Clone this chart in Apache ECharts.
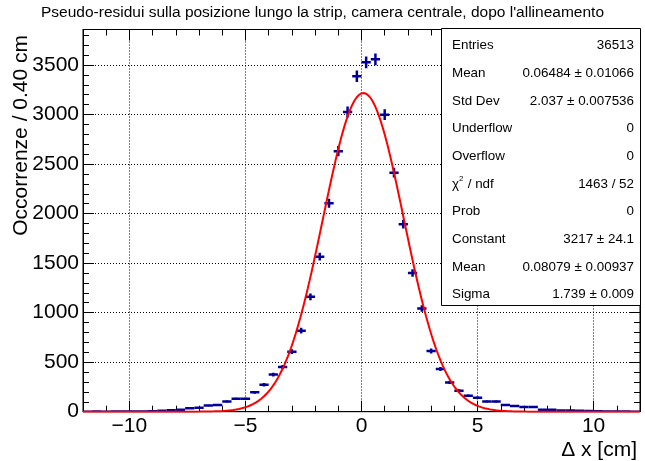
<!DOCTYPE html>
<html>
<head>
<meta charset="utf-8">
<script src="https://cdn.jsdelivr.net/npm/echarts@6/dist/echarts.min.js"></script>
<style>html,body{margin:0;padding:0;background:#fff;}#c{width:645px;height:461px;}</style>
</head>
<body>
<div id="c"></div>
<script>
// ---- data ----
var binCenters = [-11.8,-11.4,-11.0,-10.6,-10.2,-9.8,-9.4,-9.0,-8.6,-8.2,-7.8,-7.4,-7.0,-6.6,-6.2,-5.8,-5.4,-5.0,-4.6,-4.2,-3.8,-3.4,-3.0,-2.6,-2.2,-1.8,-1.4,-1.0,-0.6,-0.2,
                  0.2,0.6,1.0,1.4,1.8,2.2,2.6,3.0,3.4,3.8,4.2,4.6,5.0,5.4,5.8,6.2,6.6,7.0,7.4,7.8,8.2,8.6,9.0,9.4,9.8,10.2,10.6,11.0,11.4,11.8];
var counts = [0,2,0,1,2,2,3,5,10,15,20,34,40,62,68,103,130,130,196,272,375,450,606,818,1160,1565,2104,2630,3025,3386,
              3527,3557,2998,2413,1893,1400,1042,612,431,296,212,161,141,104,104,67,57,47,47,20,20,13,13,10,8,5,3,3,1,0];
var binWidth = 0.4;
var fitConstant = 3217, fitMean = 0.08079, fitSigma = 1.739;
var xMajorTicks = [-10,-5,0,5,10];
var yMajorTicks = [0,500,1000,1500,2000,2500,3000,3500];
var statsLabels = ['Entries','Mean','Std Dev','Underflow','Overflow','χ2 / ndf','Prob','Constant','Mean','Sigma'];
var statsValues = ['36513','0.06484 ± 0.01066','2.037 ± 0.007536','0','0','1463 / 52','0','3217 ± 24.1','0.08079 ± 0.00937','1.739 ± 0.009'];
var titleText = "Pseudo-residui sulla posizione lungo la strip, camera centrale, dopo l'allineamento";
var xTitle = 'Δ x [cm]';
var yTitle = 'Occorrenze / 0.40 cm';

// ---- layout ----
var XMIN = -12, XMAX = 12, YMAX = 3858;
var FONT = 'Liberation Sans, Arial, Helvetica, sans-serif';
var HCOL = '#000099';
var xMinor = [], yMinor = [];
for (var i = XMIN; i <= XMAX; i++) xMinor.push(i);
for (var j = 0; j <= 3800; j += 100) yMinor.push(j);

var histData = binCenters.map(function (c, k) { return [c, counts[k], Math.sqrt(counts[k])]; });
var fitData = [];
for (var t = 0; t <= 1200; t++) {
  var xv = XMIN + (XMAX - XMIN) * t / 1200;
  fitData.push([xv, fitConstant * Math.exp(-0.5 * Math.pow((xv - fitMean) / fitSigma, 2))]);
}

function fmt(v) { return String(v).replace('-', '\u2212'); }
var gridLine = { show: true, lineStyle: { color: '#000', width: 1, type: [1, 2] } };
function xAx(pos, major, labels) {
  return {
    type: 'value', position: pos, min: XMIN, max: XMAX,
    axisLine: { show: major, onZero: false, lineStyle: { color: '#000', width: 1 } },
    axisTick: { show: true, inside: true, length: major ? 11 : 6, customValues: major ? xMajorTicks : xMinor, lineStyle: { color: '#000', width: 1 } },
    axisLabel: labels ? { show: true, customValues: xMajorTicks, formatter: fmt, color: '#000', fontSize: 21, fontFamily: FONT, margin: 4 } : { show: false },
    splitLine: labels ? gridLine : { show: false }
  };
}
function yAx(pos, major, labels) {
  return {
    type: 'value', position: pos, min: 0, max: YMAX,
    axisLine: { show: major, onZero: false, lineStyle: { color: '#000', width: 1 } },
    axisTick: { show: true, inside: true, length: major ? 11 : 6, customValues: major ? yMajorTicks : yMinor, lineStyle: { color: '#000', width: 1 } },
    axisLabel: labels ? { show: true, customValues: yMajorTicks, formatter: function (v) { return String(v); }, color: '#000', fontSize: 21, fontFamily: FONT, margin: 4 } : { show: false },
    splitLine: labels ? gridLine : { show: false }
  };
}

var BOX = { x: 441, y: 28, w: 199, h: 277 };
var SF = '13.4px ' + FONT;
var graphics = [
  { type: 'text', left: 'center', top: 5, style: { text: titleText, font: '15.5px ' + FONT, fill: '#000' } },
  { type: 'text', right: 8, top: 440, style: { text: xTitle, font: '21px ' + FONT, fill: '#000' } },
  { type: 'text', x: 21, y: 35, rotation: Math.PI / 2, style: { text: yTitle, font: '21px ' + FONT, fill: '#000', align: 'right', verticalAlign: 'middle' }, originX: 0, originY: 0 },
  { type: 'rect', shape: { x: BOX.x + 0.5, y: BOX.y + 0.5, width: BOX.w, height: BOX.h }, style: { fill: '#fff', stroke: '#000', lineWidth: 1 }, z: 100 }
];
statsLabels.forEach(function (lab, k) {
  var cy = 45.5 + 27.7 * k;
  if (lab.indexOf('χ2') === 0) {
    graphics.push({ type: 'text', x: 452, y: cy, z: 101, style: { text: 'χ', font: SF, fill: '#000', verticalAlign: 'middle' } });
    graphics.push({ type: 'text', x: 459, y: cy - 5, z: 101, style: { text: '2', font: '8px ' + FONT, fill: '#000', verticalAlign: 'middle' } });
    graphics.push({ type: 'text', x: 464, y: cy, z: 101, style: { text: ' / ndf', font: SF, fill: '#000', verticalAlign: 'middle' } });
  } else {
    graphics.push({ type: 'text', x: 452, y: cy, z: 101, style: { text: lab, font: SF, fill: '#000', verticalAlign: 'middle' } });
  }
  graphics.push({ type: 'text', x: 634, y: cy, z: 101, style: { text: statsValues[k], font: SF, fill: '#000', align: 'right', verticalAlign: 'middle' } });
});

var chart = echarts.init(document.getElementById('c'), null, { renderer: 'canvas' });
chart.setOption({
  animation: false,
  backgroundColor: '#fff',
  grid: { left: 83, right: 5, top: 29.5, bottom: 49.3, show: true, borderColor: '#000', borderWidth: 1, backgroundColor: 'transparent' },
  xAxis: [xAx('bottom', true, true), xAx('bottom', false, false), xAx('top', true, false), xAx('top', false, false)],
  yAxis: [yAx('left', true, true), yAx('left', false, false), yAx('right', true, false), yAx('right', false, false)],
  series: [
    {
      type: 'custom', xAxisIndex: 0, yAxisIndex: 0, clip: true, z: 3,
      data: histData,
      encode: { x: 0, y: 1 },
      renderItem: function (params, api) {
        var x = api.value(0), y = api.value(1), e = api.value(2);
        var a = api.coord([x - binWidth / 2, y]), b = api.coord([x + binWidth / 2, y]);
        var c = api.coord([x, Math.max(0, y - e)]), d = api.coord([x, y + e]);
        return { type: 'group', children: [
          { type: 'line', shape: { x1: a[0], y1: a[1], x2: b[0], y2: b[1] }, style: { stroke: HCOL, lineWidth: 2.5 } },
          { type: 'line', shape: { x1: c[0], y1: c[1], x2: d[0], y2: d[1] }, style: { stroke: HCOL, lineWidth: 2.5 } }
        ] };
      }
    },
    {
      type: 'line', xAxisIndex: 0, yAxisIndex: 0, data: fitData, showSymbol: false, symbol: 'none', clip: true, z: 4,
      lineStyle: { color: '#ff0000', width: 2 }
    }
  ],
  graphic: graphics
});
</script>
</body>
</html>
